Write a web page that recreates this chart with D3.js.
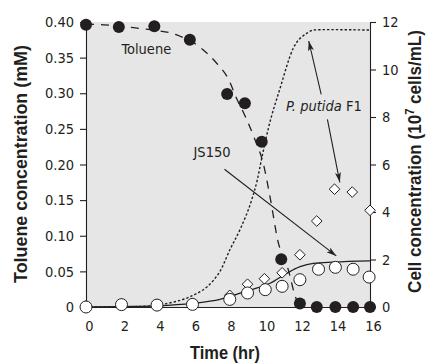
<!DOCTYPE html>
<html>
<head>
<meta charset="utf-8">
<script src="https://cdn.jsdelivr.net/npm/d3@7"></script>
<style>
  html, body { margin: 0; padding: 0; background: #fff; }
  svg text { font-family: "DejaVu Sans Condensed", "Liberation Sans", sans-serif; fill: #231f20; }
  svg text.title { font-family: "Liberation Sans", Arial, sans-serif; font-weight: bold; font-size: 18.5px; }
</style>
</head>
<body>
<div id="chart"></div>
<script>
// toluene measurements (mM)
const tolTime = [0, 1.85, 3.85, 5.85, 7.95, 8.95, 9.9, 11, 12.05, 13, 14.05, 15.05, 16];
const tolConc = [0.396, 0.393, 0.394, 0.375, 0.299, 0.286, 0.232, 0.067, 0.005, 0, 0, 0, 0];
// toluene model curve (dashed)
const tolFitTime = [0, 1, 2, 3, 4, 4.7, 5.3, 6, 6.4, 7.4, 8, 8.5, 9, 9.5, 10, 10.4, 10.8, 11.4, 11.8, 12.1];
const tolFitConc = [0.397, 0.396, 0.394, 0.391, 0.388, 0.385, 0.38, 0.372, 0.365, 0.341, 0.321, 0.292, 0.266, 0.236, 0.2, 0.15, 0.094, 0.052, 0.014, 0];

// JS150 cells (10^7 cells/mL)
const jsTime = [0, 2, 4, 6, 8.1, 9.1, 10.1, 11.05, 12.05, 13.1, 14.05, 15.05, 15.95];
const jsCells = [0, 0.1, 0.08, 0.11, 0.32, 0.59, 0.73, 0.87, 1.15, 1.59, 1.67, 1.59, 1.26];
const jsFitTime = [0, 2, 4, 6, 7.55, 8.68, 9.43, 10.37, 11.31, 12.06, 12.81, 13.94, 16];
const jsFitCells = [0, 0.02, 0.05, 0.15, 0.32, 0.58, 0.75, 1.0, 1.42, 1.7, 1.84, 1.89, 1.94];

// P. putida F1 cells (10^7 cells/mL)
const f1Time = [0, 2, 4, 6, 8.1, 9.1, 10.05, 11.05, 12.05, 13, 14, 15, 16];
const f1Cells = [0.05, 0.12, 0.1, 0.15, 0.49, 0.96, 1.19, 1.44, 2.2, 3.62, 4.96, 4.84, 4.07];
const f1FitTime = [0, 3, 4, 5, 5.86, 7.2, 7.55, 8.1, 8.7, 9.33, 9.65, 9.9, 10.3, 10.93, 11.68, 12.43, 12.8, 13.5, 16];
const f1FitCells = [0, 0.02, 0.08, 0.22, 0.43, 1.14, 1.5, 2.4, 3.3, 4.5, 5.35, 6.26, 7.6, 9.2, 10.9, 11.52, 11.66, 11.68, 11.66];

// tick labels
const xTicks = [0, 2, 4, 6, 8, 10, 12, 14, 16];
const leftTicks = [0, 0.05, 0.10, 0.15, 0.20, 0.25, 0.30, 0.35, 0.40];
const leftTickLabels = ['0', '0.05', '0.10', '0.15', '0.20', '0.25', '0.30', '0.35', '0.40'];
const rightTicks = [0, 2, 4, 6, 8, 10, 12];

const width = 428, height = 364;
const margin = { top: 22, right: 58, bottom: 57, left: 86 };
const plotW = width - margin.left - margin.right;
const plotH = height - margin.top - margin.bottom;
const ink = '#231f20';

const svg = d3.select('#chart').append('svg')
  .attr('width', width)
  .attr('height', height);

const g = svg.append('g')
  .attr('transform', 'translate(' + margin.left + ',' + margin.top + ')');

const x = d3.scaleLinear().domain([0, 16]).range([0, plotW]);
const yL = d3.scaleLinear().domain([0, 0.40]).range([plotH, 0]);
const yR = d3.scaleLinear().domain([0, 12]).range([plotH, 0]);

g.append('rect')
  .attr('width', plotW)
  .attr('height', plotH)
  .attr('fill', '#e6e6e7');

const zip = (a, b) => a.map((v, i) => [v, b[i]]);

// model curves
const lineL = d3.line().x(d => x(d[0])).y(d => yL(d[1])).curve(d3.curveMonotoneX);
const lineR = d3.line().x(d => x(d[0])).y(d => yR(d[1])).curve(d3.curveMonotoneX);

g.append('path')
  .datum(zip(f1FitTime, f1FitCells))
  .attr('d', lineR)
  .attr('fill', 'none')
  .attr('stroke', ink)
  .attr('stroke-width', 1.4)
  .attr('stroke-dasharray', '2.4,2');

g.append('path')
  .datum(zip(jsFitTime, jsFitCells))
  .attr('d', lineR)
  .attr('fill', 'none')
  .attr('stroke', ink)
  .attr('stroke-width', 1.3);

g.append('path')
  .datum(zip(tolFitTime, tolFitConc))
  .attr('d', lineL)
  .attr('fill', 'none')
  .attr('stroke', ink)
  .attr('stroke-width', 1.3)
  .attr('stroke-dasharray', '8,7');

// axes
const axL = g.append('g')
  .call(d3.axisLeft(yL).tickValues(leftTicks).tickFormat((d, i) => leftTickLabels[i]).tickSize(6).tickSizeOuter(0).tickPadding(6));
const axR = g.append('g')
  .attr('transform', 'translate(' + plotW + ',0)')
  .call(d3.axisRight(yR).tickValues(rightTicks).tickSize(6).tickSizeOuter(0).tickPadding(6));
const axB = g.append('g')
  .attr('transform', 'translate(0,' + plotH + ')')
  .call(d3.axisBottom(x).tickValues(xTicks).tickSize(0).tickSizeOuter(0).tickPadding(14));
axB.selectAll('text').attr('dx', 3);

[axL, axR, axB].forEach(a => {
  a.selectAll('path, line').attr('stroke', ink).attr('stroke-width', 1.1);
  a.selectAll('text').style('font-size', '14.5px').attr('fill', ink);
});

// arrows
svg.append('defs').append('marker')
  .attr('id', 'arr')
  .attr('viewBox', '0 0 10 10')
  .attr('refX', 10).attr('refY', 5)
  .attr('markerWidth', 10).attr('markerHeight', 10)
  .attr('markerUnits', 'userSpaceOnUse')
  .attr('orient', 'auto')
  .append('path')
  .attr('d', 'M0,2 L10,5 L0,8 L2.5,5 Z')
  .attr('fill', ink);

const arrows = [
  [x(13.25), yR(8.95), x(12.55), yR(11.2)],
  [x(13.6), yR(7.9), x(14.3), yR(5.25)],
  [x(7.8), yR(5.8), x(14.1), yR(2.15)]
];
g.selectAll('.arrow').data(arrows).enter().append('line')
  .attr('x1', d => d[0]).attr('y1', d => d[1])
  .attr('x2', d => d[2]).attr('y2', d => d[3])
  .attr('stroke', ink)
  .attr('stroke-width', 1.1)
  .attr('marker-end', 'url(#arr)');

// markers
const sym = d3.symbol().type(d3.symbolDiamond2).size(72);
g.selectAll('.f1').data(zip(f1Time, f1Cells)).enter().append('path')
  .attr('transform', d => 'translate(' + x(d[0]) + ',' + yR(d[1]) + ')')
  .attr('d', sym)
  .attr('fill', '#fff')
  .attr('stroke', ink)
  .attr('stroke-width', 1);

g.selectAll('.js').data(zip(jsTime, jsCells)).enter().append('circle')
  .attr('cx', d => x(d[0])).attr('cy', d => yR(d[1]))
  .attr('r', 6)
  .attr('fill', '#fff')
  .attr('stroke', ink)
  .attr('stroke-width', 1);

g.selectAll('.tol').data(zip(tolTime, tolConc)).enter().append('circle')
  .attr('cx', d => x(d[0])).attr('cy', d => yL(d[1]))
  .attr('r', 6)
  .attr('fill', ink);

// labels
g.append('text')
  .attr('x', x(3.4)).attr('y', yL(0.3545))
  .attr('text-anchor', 'middle')
  .style('font-size', '14.5px')
  .text('Toluene');

g.append('text')
  .attr('x', x(7.1)).attr('y', yR(6.3))
  .attr('text-anchor', 'middle')
  .style('font-size', '14.5px')
  .text('JS150');

const pl = g.append('text')
  .attr('x', x(13.4)).attr('y', yR(8.25))
  .attr('text-anchor', 'middle')
  .style('font-size', '14.5px');
pl.append('tspan').style('font-style', 'italic').text('P. putida');
pl.append('tspan').text(' F1');

// axis titles, squeezed to the condensed width of the original
function squeeze(t, pos, rot, target) {
  const k = target / t.node().getComputedTextLength();
  t.attr('transform', 'translate(' + pos + ')' + (rot ? ' rotate(-90)' : '') + ' scale(' + k + ',1)');
}

const bt = svg.append('text')
  .attr('class', 'title')
  .attr('text-anchor', 'middle')
  .text('Time (hr)');
squeeze(bt, '225,359', false, 70);

const lt = svg.append('text')
  .attr('class', 'title')
  .attr('text-anchor', 'middle')
  .text('Toluene concentration (mM)');
squeeze(lt, '27,164', true, 238);

const rt = svg.append('text')
  .attr('class', 'title')
  .attr('text-anchor', 'middle');
rt.append('tspan').text('Cell concentration (10');
rt.append('tspan').attr('dy', -7).style('font-size', '12px').text('7');
rt.append('tspan').attr('dy', 7).text(' cells/mL)');
squeeze(rt, '421,161.5', true, 263);
</script>
</body>
</html>
